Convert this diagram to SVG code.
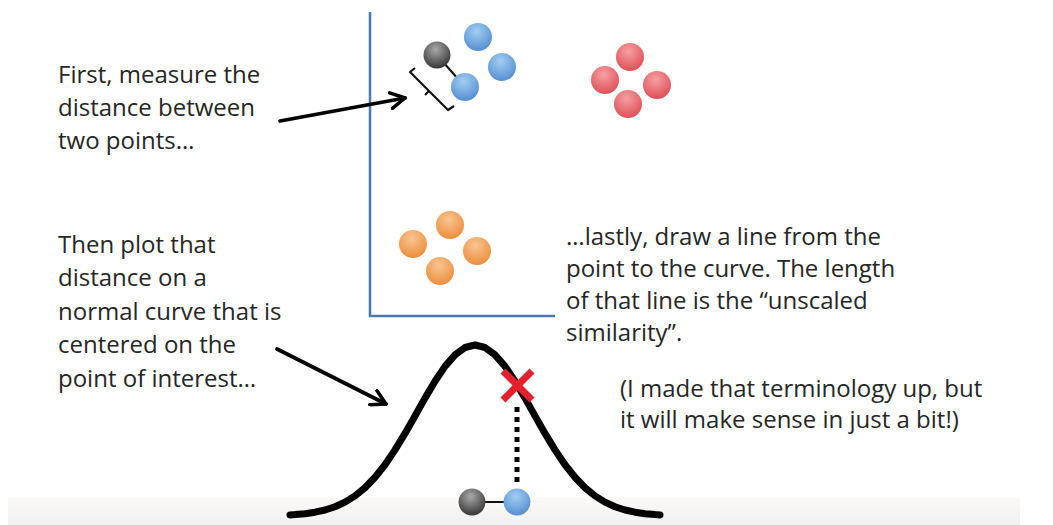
<svg xmlns="http://www.w3.org/2000/svg" width="1053" height="525" viewBox="0 0 1053 525">
<defs>
<radialGradient id="gBlue" cx="0.45" cy="0.3" r="0.75"><stop offset="0" stop-color="#a3cdf2"/><stop offset="1" stop-color="#4f8bd0"/></radialGradient>
<radialGradient id="gGray" cx="0.45" cy="0.3" r="0.75"><stop offset="0" stop-color="#a8a8a8"/><stop offset="1" stop-color="#2e2e2e"/></radialGradient>
<radialGradient id="gRed" cx="0.45" cy="0.3" r="0.75"><stop offset="0" stop-color="#f6a0a3"/><stop offset="1" stop-color="#dc4a52"/></radialGradient>
<radialGradient id="gOrange" cx="0.45" cy="0.3" r="0.75"><stop offset="0" stop-color="#f9c592"/><stop offset="1" stop-color="#ec8a37"/></radialGradient>
<linearGradient id="gBand" x1="0" y1="0" x2="0" y2="1"><stop offset="0" stop-color="#fbfaf9"/><stop offset="1" stop-color="#f0f0f0"/></linearGradient>
<marker id="chev" viewBox="0 0 12 12" refX="10" refY="6" markerWidth="5" markerHeight="5" orient="auto" markerUnits="strokeWidth">
<path d="M1,1 L10,6 L1,11" fill="none" stroke="#000" stroke-width="2.2" stroke-linecap="round" stroke-linejoin="round"/>
</marker>
</defs>
<style>
.t{font-family:"Open Sans",Lato,"Liberation Sans",sans-serif;font-size:24px;fill:#262626}
.ball{stroke:none}
.conn{fill:none;stroke:#000;stroke-width:3.8;stroke-linecap:round}
</style>
<rect width="1053" height="525" fill="#ffffff"/>
<rect x="8" y="497" width="1012" height="28" fill="url(#gBand)"/>

<g id="axes">
<polyline points="370,12 370,316 555,316" fill="none" stroke="#4a78b0" stroke-width="2.5"/>
</g>

<g id="text-first">
<text class="t" x="58" y="83">First, measure the</text>
<text class="t" x="58" y="116">distance between</text>
<text class="t" x="58" y="149">two points…</text>
</g>

<g id="text-then">
<text class="t" x="58" y="253">Then plot that</text>
<text class="t" x="58" y="286">distance on a</text>
<text class="t" x="58" y="320">normal curve that is</text>
<text class="t" x="58" y="353">centered on the</text>
<text class="t" x="58" y="387">point of interest…</text>
</g>

<g id="text-lastly">
<text class="t" x="566" y="245">…lastly, draw a line from the</text>
<text class="t" x="566" y="277">point to the curve. The length</text>
<text class="t" x="566" y="309">of that line is the “unscaled</text>
<text class="t" x="566" y="341">similarity”.</text>
</g>

<g id="text-note">
<text class="t" x="620" y="397">(I made that terminology up, but</text>
<text class="t" x="620" y="428">it will make sense in just a bit!)</text>
</g>

<g id="cluster-blue">
<line x1="437" y1="55" x2="465" y2="87" stroke="#111" stroke-width="2"/>
<circle class="ball" cx="478" cy="37" r="14" fill="url(#gBlue)"/>
<circle class="ball" cx="502" cy="67" r="14" fill="url(#gBlue)"/>
<circle class="ball" cx="465" cy="87" r="14" fill="url(#gBlue)"/>
<circle class="ball" cx="437" cy="55" r="13.5" fill="url(#gGray)"/>
</g>

<g id="bracket">
<path d="M415,68 L410,72 L448,110 L454,106 M429,91 L425,95" fill="none" stroke="#111" stroke-width="2.2" stroke-linejoin="round"/>
</g>

<g id="cluster-red">
<circle class="ball" cx="630" cy="57" r="14" fill="url(#gRed)"/>
<circle class="ball" cx="605" cy="80" r="14" fill="url(#gRed)"/>
<circle class="ball" cx="657" cy="85" r="14" fill="url(#gRed)"/>
<circle class="ball" cx="628" cy="104" r="14" fill="url(#gRed)"/>
</g>

<g id="cluster-orange">
<circle class="ball" cx="450" cy="225" r="14" fill="url(#gOrange)"/>
<circle class="ball" cx="413" cy="244" r="14" fill="url(#gOrange)"/>
<circle class="ball" cx="477" cy="251" r="14" fill="url(#gOrange)"/>
<circle class="ball" cx="440" cy="271" r="14" fill="url(#gOrange)"/>
</g>

<g id="curve">
<polyline points="290,514.9 295,514.6 305,513.7 315,512.2 325,510.0 335,506.7 345,502.1 355,495.9 365,487.7 375,477.3 385,464.7 395,449.9 405,433.4 415,415.9 425,398.1 435,381.2 445,366.4 455,354.9 465,347.5 475,345 485,347.5 495,354.9 505,366.4 515,381.2 525,398.1 535,415.9 545,433.4 555,449.9 565,464.7 575,477.3 585,487.7 595,495.9 605,502.1 615,506.7 625,510.0 635,512.2 645,513.7 655,514.6 660,514.9" fill="none" stroke="#000" stroke-width="7" stroke-linecap="round" stroke-linejoin="round"/>
</g>

<g id="pair-bottom">
<line x1="472" y1="502" x2="517" y2="502" stroke="#111" stroke-width="2"/>
<circle class="ball" cx="472" cy="502" r="13.5" fill="url(#gGray)"/>
<circle class="ball" cx="517" cy="502" r="13.5" fill="url(#gBlue)"/>
</g>

<g id="connectors">
<line class="conn" x1="280" y1="121" x2="405" y2="98" marker-end="url(#chev)"/>
<line class="conn" x1="277" y1="349" x2="386" y2="404" marker-end="url(#chev)"/>
<line x1="517" y1="407" x2="517" y2="487" stroke="#000" stroke-width="5" stroke-dasharray="5 5"/>
</g>

<g id="red-x">
<path d="M503,371 L532,400 M532,371 L503,400" stroke="#e3202b" stroke-width="7" stroke-linecap="butt"/>
</g>
</svg>
